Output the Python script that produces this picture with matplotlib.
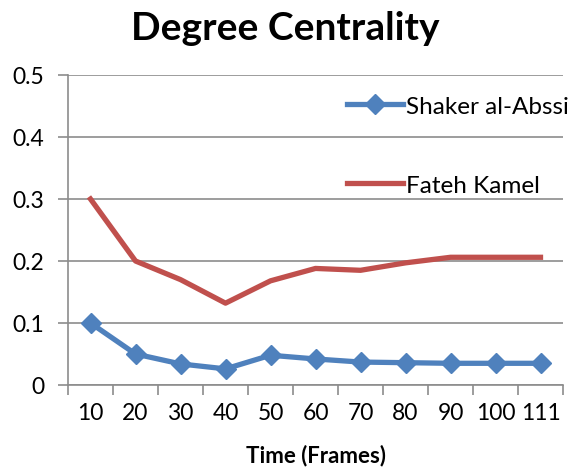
import matplotlib.pyplot as plt

frames = ["10", "20", "30", "40", "50", "60", "70", "80", "90", "100", "111"]
shaker = [0.1, 0.05, 0.034, 0.026, 0.048, 0.042, 0.037, 0.036, 0.035, 0.035, 0.035]
fateh = [0.3, 0.2, 0.17, 0.132, 0.168, 0.188, 0.185, 0.197, 0.206, 0.206, 0.206]

plt.rcParams['font.family'] = ['Lato', 'DejaVu Sans']

grey = "#8c8c8c"


def main():
    fig = plt.figure(figsize=(5.71, 4.77), dpi=100)
    ax = fig.add_axes([68 / 571, 1 - 386 / 477, 495 / 571, 310 / 477])
    x = list(range(len(frames)))

    ax.plot(x, shaker, color="#4F81BD", linewidth=3.8, marker="D", markersize=10.5,
            label="Shaker al-Abssi")
    ax.plot(x, fateh, color="#C0504D", linewidth=3.8, label="Fateh Kamel")

    ax.set_xlim(-0.5, len(frames) - 0.5)
    ax.set_ylim(0, 0.5)
    ax.set_yticks([0, 0.1, 0.2, 0.3, 0.4, 0.5])
    ax.set_yticklabels(["0", "0.1", "0.2", "0.3", "0.4", "0.5"])
    ax.set_xticks(x)
    ax.set_xticklabels(frames)
    ax.set_xticks([i - 0.5 for i in range(len(frames) + 1)], minor=True)
    ax.tick_params(axis="x", which="major", length=0, pad=12, labelsize=16.5)
    ax.tick_params(axis="x", which="minor", length=7, color=grey, width=1.2)
    ax.tick_params(axis="y", length=7, color=grey, width=1.2, labelsize=16.5, pad=10)
    ax.grid(axis="y", color=grey, linewidth=1.2)
    ax.set_axisbelow(True)
    for s in ["top", "right"]:
        ax.spines[s].set_visible(False)
    for s in ["left", "bottom"]:
        ax.spines[s].set_color(grey)
        ax.spines[s].set_linewidth(1.2)

    ax.set_xlabel("Time (Frames)", fontsize=16, fontweight="bold", labelpad=15)
    fig.text(0.5, 0.94, "Degree Centrality", ha="center", va="center",
             fontsize=28, fontweight="bold")

    ax.legend(loc="upper left", bbox_to_anchor=(0.545, 0.965), frameon=False,
              fontsize=17.5, labelspacing=2.4, handlelength=2.3, handletextpad=0.1,
              borderaxespad=0)

    fig.savefig("out.png", dpi=100)


if __name__ == "__main__":
    main()
